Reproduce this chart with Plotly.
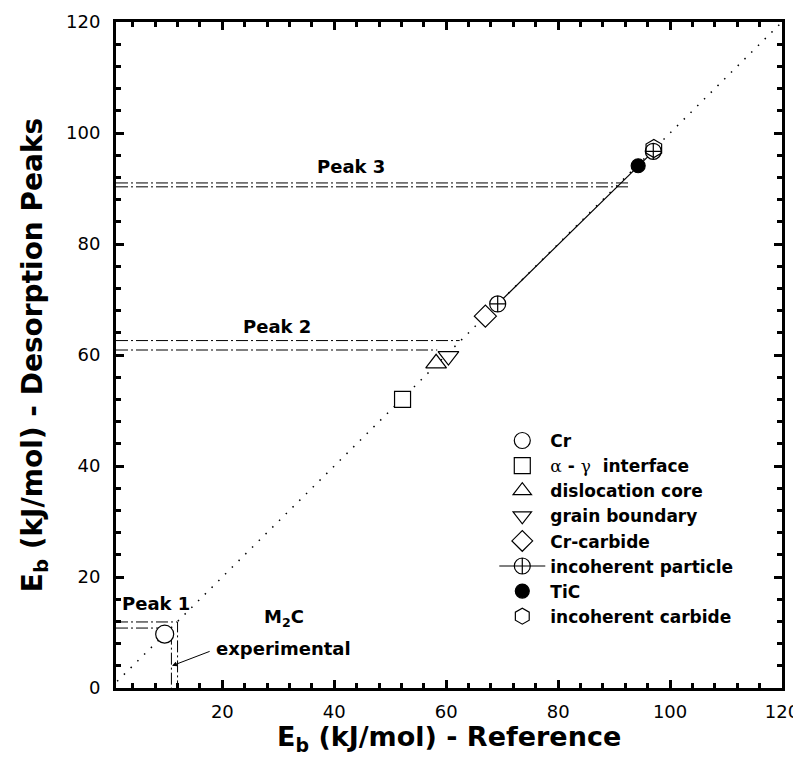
import plotly.graph_objects as go

# ---------------- data ----------------
diag_x = [0, 120]
diag_y = [0, 120]

cr_x, cr_y = [9.7], [9.7]
ag_x, ag_y = [52.2], [52.0]
disl_x, disl_y = [58.2], [58.5]
gb_x, gb_y = [60.4], [59.8]
crc_x, crc_y = [67.0], [67.0]
incp_x, incp_y = [69.2, 97.0], [69.2, 96.7]
tic_x, tic_y = [94.3], [94.1]
incc_x, incc_y = [97.1], [97.2]

# desorption peak levels (pairs of lines): y level, end x
peak3_y = [91.0, 90.3]
peak3_end = [92.5, 92.5]
peak2_y = [62.6, 60.9]
peak2_end = [62.4, 58.4]
peak1_y = [11.9, 10.8]
peak1_end = [12.0, 10.9]
x_start = 1

xticks = [20, 40, 60, 80, 100, 120]
yticks = [0, 20, 40, 60, 80, 100, 120]

x_title = "E<sub>b</sub> (kJ/mol) - Reference"
y_title = "E<sub>b</sub> (kJ/mol) - Desorption Peaks"

legend_names = ["Cr",
                "<span style='font-family:DejaVu Serif;font-weight:normal'>α</span> - "
                "<span style='font-family:DejaVu Serif;font-weight:normal'>γ</span>\u00a0 interface",
                "dislocation core", "grain boundary", "Cr-carbide",
                "incoherent particle", "TiC", "incoherent carbide"]

FONT = "DejaVu Sans"
DASH = "12px,3px,2px,3px"

fig = go.Figure()

# diagonal y = x
fig.add_trace(go.Scatter(x=diag_x, y=diag_y, mode="lines", showlegend=False,
                         line=dict(color="black", width=1.5, dash="1.5px,8px"),
                         hoverinfo="skip"))

# peak lines
for ys, ends in [(peak3_y, peak3_end), (peak2_y, peak2_end)]:
    for yv, xe in zip(ys, ends):
        fig.add_trace(go.Scatter(x=[x_start, xe], y=[yv, yv], mode="lines", showlegend=False,
                                 line=dict(color="black", width=1, dash=DASH), hoverinfo="skip"))
for yv, xe in zip(peak1_y, peak1_end):
    fig.add_trace(go.Scatter(x=[x_start, xe, xe], y=[yv, yv, 0], mode="lines", showlegend=False,
                             line=dict(color="black", width=1, dash=DASH), hoverinfo="skip"))

mk_line = dict(color="black", width=1.2)


def add_pts(x, y, name, symbol, size, fill="white", mode="markers", line=None):
    fig.add_trace(go.Scatter(
        x=x, y=y, name=name, mode=mode,
        marker=dict(symbol=symbol, size=size, color=fill, line=mk_line),
        line=line if line else dict(color="black", width=1)))


add_pts(cr_x, cr_y, legend_names[0], "circle", 18)
add_pts(ag_x, ag_y, legend_names[1], "square", 16)
add_pts(disl_x, disl_y, legend_names[2], "triangle-up", 18)
add_pts(gb_x, gb_y, legend_names[3], "triangle-down", 18)
add_pts(crc_x, crc_y, legend_names[4], "diamond", 17)
add_pts(incp_x, incp_y, legend_names[5], "circle-cross", 16, mode="lines+markers",
        line=dict(color="black", width=1.2))
add_pts(tic_x, tic_y, legend_names[6], "circle", 14, fill="black")
add_pts(incc_x, incc_y, legend_names[7], "hexagon-open", 18, fill="black")

axis_common = dict(
    showline=True, linewidth=3, linecolor="black", mirror="ticks",
    ticks="inside", ticklen=8, tickwidth=2.5, tickcolor="black",
    showgrid=False, zeroline=False, automargin=False, ticklabeloverflow="allow",
    tickfont=dict(family=FONT, size=18, color="black"),
    minor=dict(dtick=4, tick0=0, ticks="inside", ticklen=5, tickwidth=2.5,
               tickcolor="black", showgrid=False),
)

fig.update_xaxes(range=[1, 120], tickvals=xticks, ticklabelstandoff=5, **axis_common)
fig.update_yaxes(range=[0, 120], tickvals=yticks, ticklabelstandoff=9,
                 title=dict(text=y_title, standoff=16,
                            font=dict(family=FONT, size=28, weight="bold", color="black")),
                 **axis_common)

# x-axis title (placed as paper annotation to match spacing)
fig.add_annotation(x=0.5, y=-0.076, xref="paper", yref="paper", text=x_title,
                   showarrow=False, xanchor="center", yanchor="middle",
                   font=dict(family=FONT, size=27, weight="bold", color="black"))

ann_font = dict(family=FONT, size=18, weight="bold", color="black")
fig.add_annotation(x=43, y=93.9, text="Peak 3", showarrow=False, font=ann_font)
fig.add_annotation(x=29.7, y=65.2, text="Peak 2", showarrow=False, font=ann_font)
fig.add_annotation(x=8.2, y=15.3, text="Peak 1", showarrow=False, font=ann_font)
fig.add_annotation(x=31, y=12.6, text="M<sub>2</sub>C", showarrow=False, font=ann_font)
fig.add_annotation(x=31, y=7.2, text="experimental", showarrow=False, font=ann_font)
fig.add_annotation(x=11, y=4, ax=18, ay=6.7, axref="x", ayref="y", text="",
                   showarrow=True, arrowhead=2, arrowsize=1, arrowwidth=1, arrowcolor="black")

fig.update_layout(
    width=793, height=761,
    margin=dict(l=108, r=19, t=14, b=81),
    paper_bgcolor="white", plot_bgcolor="white",
    showlegend=True,
    legend=dict(x=0.568, y=0.398, xanchor="left", yanchor="top",
                bgcolor="rgba(0,0,0,0)", borderwidth=0, itemwidth=46,
                font=dict(family=FONT, size=17, weight="bold", color="black"),
                tracegroupgap=0),
)

fig.write_html("out.html")
